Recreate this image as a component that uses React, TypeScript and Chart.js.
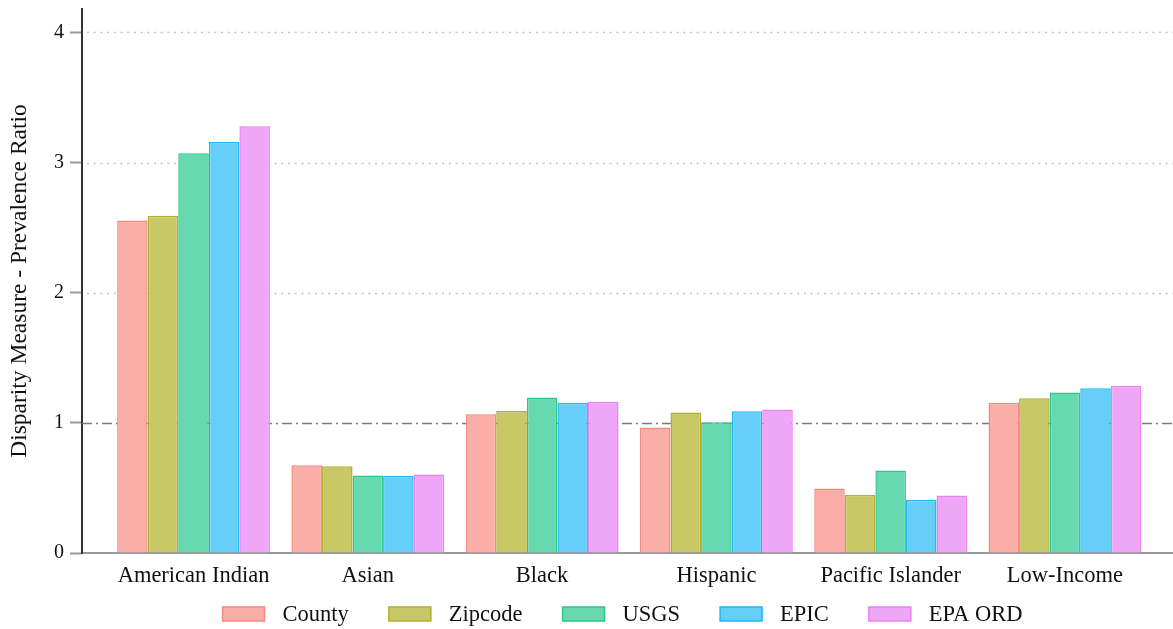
import React, { useEffect, useRef } from 'react';
import { Chart, registerables } from 'chart.js';

Chart.register(...registerables);

const categories = ['American Indian', 'Asian', 'Black', 'Hispanic', 'Pacific Islander', 'Low-Income'];
const seriesNames = ['County', 'Zipcode', 'USGS', 'EPIC', 'EPA ORD'];
const county = [2.554, 0.675, 1.067, 0.965, 0.495, 1.154];
const zipcode = [2.592, 0.667, 1.092, 1.08, 0.446, 1.19];
const usgs = [3.072, 0.595, 1.195, 1.005, 0.634, 1.234];
const epic = [3.159, 0.592, 1.154, 1.09, 0.408, 1.265];
const epaOrd = [3.28, 0.603, 1.162, 1.103, 0.441, 1.285];
const yTicks = [0, 1, 2, 3, 4];
const referenceValue = 1;

const seriesValues = [county, zipcode, usgs, epic, epaOrd];
const fillColors = ['#FBADA7', '#C8C866', '#66D9B1', '#66CFF9', '#F0A6F7'];
const lineColors = ['#F8877F', '#B0B030', '#2CC68E', '#22B8F4', '#E883F2'];
const FONT = '"Liberation Serif", "Times New Roman", serif';

const gridPlugin = {
  id: 'customGrid',
  beforeDatasetsDraw(chart: any) {
    const { ctx, chartArea, scales } = chart;
    const y = scales.y;
    ctx.save();
    yTicks.forEach((v) => {
      if (v === 0 || v === referenceValue) return;
      const py = Math.round(y.getPixelForValue(v)) + 0.5;
      ctx.strokeStyle = '#c4c4c4';
      ctx.lineWidth = 1.5;
      ctx.setLineDash([2, 4.7]);
      ctx.beginPath();
      ctx.moveTo(chartArea.left + 5, py);
      ctx.lineTo(chartArea.right, py);
      ctx.stroke();
    });
    const ry = Math.round(y.getPixelForValue(referenceValue)) + 0.5;
    ctx.strokeStyle = '#7a7a7a';
    ctx.lineWidth = 1.5;
    ctx.setLineDash([10, 4, 2, 4]);
    ctx.beginPath();
    ctx.moveTo(chartArea.left, ry);
    ctx.lineTo(chartArea.right, ry);
    ctx.stroke();
    ctx.restore();
  },
};

const legendPlugin = {
  id: 'bottomLegend',
  afterDraw(chart: any) {
    const { ctx, chartArea } = chart;
    ctx.save();
    ctx.font = '22.5px ' + FONT;
    const boxW = 42;
    const boxH = 14;
    const textGap = 18;
    const itemGap = 40;
    const items = chart.data.datasets.map((ds: any) => ({
      label: ds.label,
      fill: ds.backgroundColor,
      stroke: ds.borderColor,
      w: ctx.measureText(ds.label).width,
    }));
    const total =
      items.reduce((s: number, it: any) => s + boxW + textGap + it.w, 0) + itemGap * (items.length - 1);
    let x = (chartArea.left + chartArea.right) / 2 - total / 2 - 5;
    const cy = chart.height - 15;
    ctx.textBaseline = 'middle';
    ctx.textAlign = 'left';
    items.forEach((it: any) => {
      ctx.fillStyle = it.fill;
      ctx.fillRect(x, cy - boxH / 2, boxW, boxH);
      ctx.strokeStyle = it.stroke;
      ctx.lineWidth = 1.5;
      ctx.strokeRect(x, cy - boxH / 2, boxW, boxH);
      ctx.fillStyle = '#111';
      ctx.fillText(it.label, x + boxW + textGap, cy + 1);
      x += boxW + textGap + it.w + itemGap;
    });
    ctx.restore();
  },
};

export default function App() {
  const canvasRef = useRef<HTMLCanvasElement>(null);

  useEffect(() => {
    if (!canvasRef.current) return;
    const chart = new Chart(canvasRef.current, {
      type: 'bar',
      data: {
        datasets: seriesNames.map((name, si) => ({
          label: name,
          data: categories.map((_, ci) => ({ x: ci + 1, y: seriesValues[si][ci] })),
          backgroundColor: fillColors[si],
          borderColor: lineColors[si],
          borderWidth: 1.5,
          categoryPercentage: 0.877,
          barPercentage: 1,
        })),
      },
      options: {
        animation: false,
        responsive: true,
        maintainAspectRatio: false,
        layout: { padding: { top: 9, right: 0, bottom: 0, left: 0 } },
        plugins: {
          legend: { display: false },
          tooltip: { enabled: false },
        },
        scales: {
          x: {
            type: 'linear',
            offset: false,
            min: 0.36,
            max: 6.62,
            afterBuildTicks: (scale: any) => {
              scale.ticks = categories.map((_, i) => ({ value: i + 1 }));
            },
            afterFit: (scale: any) => {
              scale.height = 629 - 553;
              scale.paddingLeft = 0;
              scale.paddingRight = 0;
            },
            ticks: {
              autoSkip: false,
              maxRotation: 0,
              padding: 2,
              color: '#111',
              font: { family: FONT, size: 22.5 },
              callback: (v: any) => categories[Math.round(Number(v)) - 1] ?? '',
            },
            grid: { display: false },
            border: { display: true, color: '#9a9a9a', width: 2 },
          },
          y: {
            min: 0,
            max: 4.18,
            afterBuildTicks: (scale: any) => {
              scale.ticks = yTicks.map((v) => ({ value: v }));
            },
            afterFit: (scale: any) => {
              scale.width = 82;
              scale.paddingTop = 0;
              scale.paddingBottom = 0;
            },
            ticks: {
              padding: 6,
              color: '#111',
              font: { family: FONT, size: 20 },
            },
            grid: {
              display: true,
              drawOnChartArea: false,
              drawTicks: true,
              tickLength: 12,
              tickColor: '#9a9a9a',
              tickWidth: 2,
            },
            border: { display: true, color: '#333', width: 2 },
            title: {
              display: true,
              text: 'Disparity Measure - Prevalence Ratio',
              color: '#111',
              font: { family: FONT, size: 23.5 },
              padding: { top: 6, bottom: 0 },
            },
          },
        },
      },
      plugins: [gridPlugin, legendPlugin],
    });
    return () => chart.destroy();
  }, []);

  return (
    <div style={{ position: 'fixed', left: 0, top: 0, width: 1173, height: 629, background: '#fff' }}>
      <canvas ref={canvasRef} />
    </div>
  );
}
